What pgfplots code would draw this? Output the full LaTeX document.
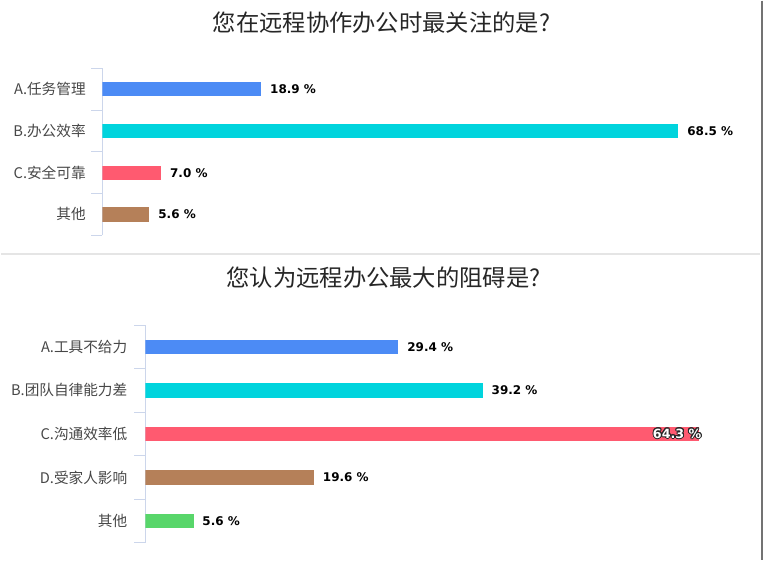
\documentclass[border=0pt]{standalone}
\usepackage{pgfplots}
\pgfplotsset{compat=1.18}
\usepackage{fontspec}
\setmainfont{Noto Sans CJK SC}
\newfontfamily\valfont{DejaVu Sans}
\usepackage{contour}
\contourlength{0.7pt}

\definecolor{cA}{HTML}{4C8BF5}
\definecolor{cB}{HTML}{00D4DD}
\definecolor{cC}{HTML}{FF5A70}
\definecolor{cD}{HTML}{B58059}
\definecolor{cE}{HTML}{58D66A}
\definecolor{axisc}{HTML}{CCD6EB}

\pgfplotsset{
  hbars/.style={
    xbar, scale only axis,
    axis x line=none,
    axis y line*=left,
    y axis line style={axisc, line width=0.8pt},
    y dir=reverse,
    xmin=0,
    major tick length=0pt,
    tick align=outside,
    ytick pos=left,
    yticklabel style={font=\fontsize{11}{12}\selectfont, text=black!72},
    extra y tick labels={},
    extra y tick style={major tick length=8.25pt,
      tick style={axisc, line width=0.8pt}},
    /pgf/number format/assume math mode=true,
    point meta=x,
    nodes near coords={\pgfmathprintnumber[fixed,precision=1,fixed zerofill]{\pgfplotspointmeta}~\%},
    every node near coord/.append style={font=\valfont\bfseries\fontsize{9}{10}\selectfont,
      anchor=west, inner sep=0pt, xshift=6.5pt, text=black},
  },
  onebar/.style={fill=#1, draw=none, bar shift=0pt, bar width=10.75pt},
}

\begin{document}
\begin{tikzpicture}[x=0.75pt, y=-0.75pt]
  \path (0,0) rectangle (765,560);

  % top chart
  \node[font=\fontsize{17.5}{20}\selectfont, text=black!85] at (381,22) {您在远程协作办公时最关注的是?};
  \begin{axis}[hbars,
      at={(76.125pt,-176.25pt)}, anchor=south west,
      width=492.6pt, height=125.25pt,
      xmax=78, ymin=-0.5, ymax=3.5,
      ytick={0,1,2,3},
      yticklabels={A.任务管理,B.办公效率,C.安全可靠,其他},
      yticklabel style={xshift=-9pt},
      extra y ticks={-0.5,0.5,1.5,2.5,3.5}]
    \addplot[onebar=cA] coordinates {(18.9,0)};
    \addplot[onebar=cB] coordinates {(68.5,1)};
    \addplot[onebar=cC] coordinates {(7.0,2)};
    \addplot[onebar=cD] coordinates {(5.6,3)};
  \end{axis}

  \draw[black!10, line width=1.5pt] (0,254) -- (760,254);

  % bottom chart
  \node[font=\fontsize{17.5}{20}\selectfont, text=black!85] at (383,277) {您认为远程办公最大的阻碍是?};
  \begin{axis}[hbars,
      at={(108.375pt,-407.25pt)}, anchor=south west,
      width=465.5pt, height=163.5pt,
      xmax=72, ymin=-0.5, ymax=4.5,
      ytick={0,1,2,3,4},
      yticklabels={A.工具不给力,B.团队自律能力差,C.沟通效率低,D.受家人影响,其他},
      yticklabel style={xshift=-10pt},
      extra y ticks={-0.5,0.5,1.5,2.5,3.5,4.5}]
    \addplot[onebar=cA] coordinates {(29.4,0)};
    \addplot[onebar=cB] coordinates {(39.2,1)};
    \addplot[onebar=cC,
      nodes near coords={\contour{black!85}{\pgfmathprintnumber[fixed,precision=1,fixed zerofill]{\pgfplotspointmeta}~\%}},
      every node near coord/.append style={anchor=east, xshift=-4.5pt, text=white,
        font=\valfont\bfseries\fontsize{9.5}{10}\selectfont}]
      coordinates {(64.3,2)};
    \addplot[onebar=cD] coordinates {(19.6,3)};
    \addplot[onebar=cE] coordinates {(5.6,4)};
  \end{axis}

  \draw[black!55, line width=0.8pt] (762,0) -- (762,560);
\end{tikzpicture}
\end{document}
